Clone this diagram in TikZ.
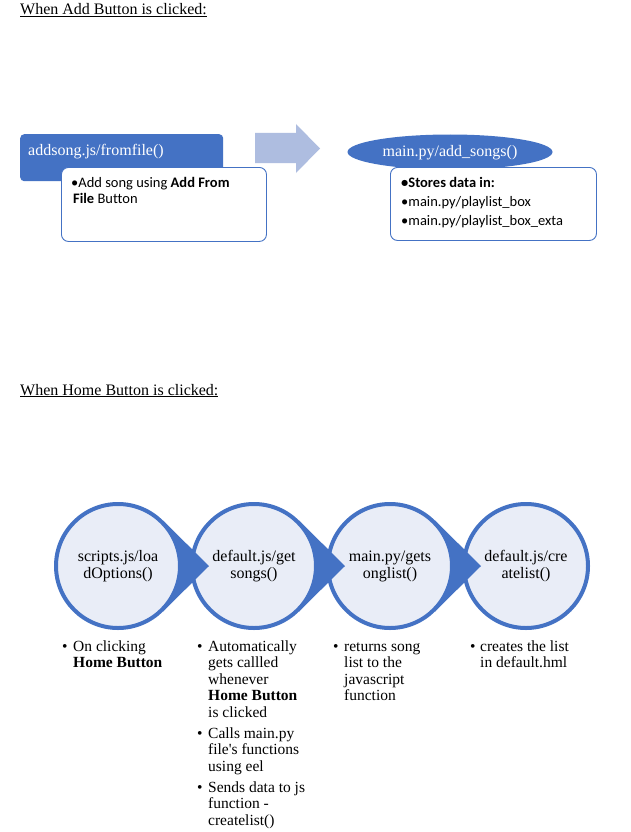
\documentclass[tikz,border=0pt]{standalone}
\usepackage{fontspec}
\setmainfont{Liberation Serif}
\newfontfamily\calib[Ligatures=NoCommon]{Carlito}
\usetikzlibrary{calc,shapes.geometric}
\definecolor{mainblue}{RGB}{68,114,196}
\definecolor{circfill}{RGB}{233,237,247}
\definecolor{arrowblue}{RGB}{174,189,224}
\newcommand\lbul{\makebox[11pt][l]{\textbullet}}
\newcommand\lind{\hspace*{11pt}}
\tikzset{
 heading/.style={anchor=base west, inner sep=0, font=\fontsize{16}{18}\selectfont},
 bluebar/.style={fill=mainblue, rounded corners=4pt, inner sep=0, anchor=north west},
 infobox/.style={draw=mainblue, fill=white, line width=0.9pt, rounded corners=7pt, inner sep=0, anchor=north west},
 whitelabel/.style={text=white, inner sep=0, font=\fontsize{16}{18}\selectfont},
 boxtext/.style={anchor=north west, inner sep=0, align=left},
 stepcircle/.style={circle, draw=mainblue, line width=4pt, fill=circfill, minimum size=124pt, inner sep=0, align=center, font=\fontsize{16}{17}\selectfont},
 chevron/.style={fill=mainblue},
 listtext/.style={anchor=north west, inner sep=0, align=left, font=\fontsize{15.5}{16.5}\selectfont},
}
\begin{document}
\begin{tikzpicture}[x=1pt,y=-1pt]
\useasboundingbox (0,0) rectangle (631,832);
\fill[white] (0,0) rectangle (631,832);

% ---------- top section ----------
\node[heading] (h1) at (20,15) {\underline{When Add Button is clicked:}};

\node[bluebar, minimum width=203pt, minimum height=47pt] (b1) at (20,134) {};
\node[whitelabel, anchor=base west] (b1t) at (28,155) {addsong.js/fromfile()};
\node[infobox, minimum width=205pt, minimum height=74pt] (w1) at (61,167) {};
\node[boxtext, font=\calib\fontsize{14.5}{16}\selectfont] (w1t) at (71,175.8)
  {\strut\textbullet Add song using \textbf{Add From}\\\hspace*{2pt}\textbf{File} Button};

\fill[arrowblue] (255,133) -- (296,133) -- (296,124) -- (320,148.5) -- (296,173) -- (296,163) -- (255,163) -- cycle;

\node[ellipse, fill=mainblue, minimum width=205pt, minimum height=35pt, inner sep=0] (e1) at (450,152) {};
\node[whitelabel, anchor=base] (e1t) at (450,156) {main.py/add\_songs()};
\node[infobox, minimum width=206pt, minimum height=73pt] (w2) at (390,167) {};
\node[boxtext, font=\calib\fontsize{14.5}{19}\selectfont] (w2t) at (401,173.7)
  {\strut\textbf{\textbullet Stores data in:}\\\textbullet main.py/playlist\_box\\\textbullet main.py/playlist\_box\_exta};

% ---------- bottom section ----------
\node[heading] (h2) at (20,395) {\underline{When Home Button is clicked:}};

\coordinate (p1) at (118,566);
\coordinate (p2) at (254,566);
\coordinate (p3) at (390,566);
\coordinate (p4) at (526,566);

\node[stepcircle] (c4) at (p4) {default.js/cre\\atelist()};
\fill[chevron] ($(p3)+(45,-45.5)$) -- ($(p3)+(91,0)$) -- ($(p3)+(45,45.5)$) -- cycle;
\node[stepcircle] (c3) at (p3) {main.py/gets\\onglist()};
\fill[chevron] ($(p2)+(45,-45.5)$) -- ($(p2)+(91,0)$) -- ($(p2)+(45,45.5)$) -- cycle;
\node[stepcircle] (c2) at (p2) {default.js/get\\songs()};
\fill[chevron] ($(p1)+(45,-45.5)$) -- ($(p1)+(91,0)$) -- ($(p1)+(45,45.5)$) -- cycle;
\node[stepcircle] (c1) at (p1) {scripts.js/loa\\dOptions()};

\node[listtext] (l1) at (62,639.45) {\strut\lbul On clicking\\\lind\textbf{Home Button}};
\node[listtext] (l2) at (197,639.45) {\strut\lbul Automatically\\\lind gets callled\\\lind whenever\\\lind\textbf{Home Button}\\\lind is clicked\\[4.5pt]\lbul Calls main.py\\\lind file\textquotesingle s functions\\\lind using eel\\[4.5pt]\lbul Sends data to js\\\lind function -\\\lind createlist()};
\node[listtext] (l3) at (333,639.45) {\strut\lbul returns song\\\lind list to the\\\lind javascript\\\lind function};
\node[listtext] (l4) at (470,639.45) {\strut\makebox[10pt][l]{\textbullet}creates the list\\\hspace*{10pt}in default.hml};
\end{tikzpicture}
\end{document}
